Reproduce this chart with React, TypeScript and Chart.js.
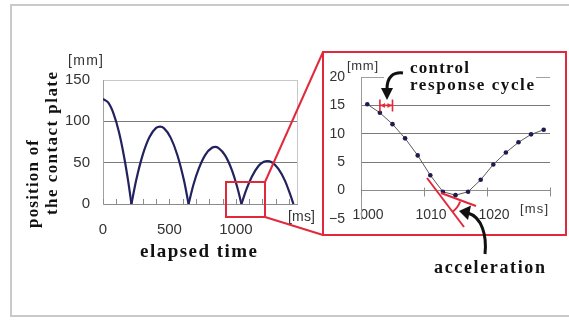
import React, { useEffect, useRef } from "react";
import { Chart, registerables } from "chart.js";

Chart.register(...registerables);

// Bounce trajectory of the contact plate, one array pair per flight arc [ms, mm]
const ARC1_MS = [0, 40, 80, 120, 160, 190, 214];
const ARC1_MM = [127, 122.5, 109, 87, 56, 27, 0];
const ARC2_MS = [214, 250, 300, 350, 400, 429, 460, 510, 560, 610, 644];
const ARC2_MM = [0, 29, 60, 81, 92, 93.5, 91.5, 80, 59, 28, 0];
const ARC3_MS = [644, 680, 720, 770, 820, 845, 870, 920, 970, 1010, 1042];
const ARC3_MM = [0, 23, 42.5, 59.5, 68, 69, 67.5, 58.5, 41, 20.5, 0];
const ARC4_MS = [1042, 1080, 1120, 1170, 1210, 1237, 1270, 1320, 1370, 1410, 1433];
const ARC4_MM = [0, 18, 33, 46, 51, 52, 50.5, 42.5, 28, 11, 0];

// Sampled positions around the third contact (one sample per 2 ms control cycle)
const DETAIL_MS = [1001, 1003, 1005, 1007, 1009, 1011, 1013, 1015, 1017, 1019, 1021, 1023, 1025, 1027, 1029];
const DETAIL_MM = [15.2, 13.7, 11.7, 9.2, 6.2, 2.7, -0.2, -0.8, -0.2, 1.9, 4.6, 6.7, 8.5, 9.9, 10.7];

// Control response cycle marker: from one sample to the next, drawn at 15 mm
const CYCLE_FROM_MS = 1003;
const CYCLE_TO_MS = 1005;
const CYCLE_LEVEL_MM = 15;

const MAIN_X_LABELS = [0, 500, 1000];

const NAVY = "#22225e";
const RED = "#e2293b";
const SANS = "'Liberation Sans', Arial, sans-serif";
const SERIF = "'Liberation Serif', 'DejaVu Serif', serif";

const ARCS: [number[], number[]][] = [
  [ARC1_MS, ARC1_MM],
  [ARC2_MS, ARC2_MM],
  [ARC3_MS, ARC3_MM],
  [ARC4_MS, ARC4_MM],
];

// Short inside tick marks every 100 ms plus the light right-hand frame line
const mainTickMarks = {
  id: "mainTickMarks",
  beforeDatasetsDraw(chart: any) {
    const { ctx, chartArea: a, scales } = chart;
    const x = scales.x;
    ctx.save();
    ctx.strokeStyle = "#8c8c8c";
    ctx.lineWidth = 1;
    x.ticks.forEach((t: any) => {
      const px = Math.round(x.getPixelForValue(t.value)) + 0.5;
      ctx.beginPath();
      ctx.moveTo(px, a.bottom);
      ctx.lineTo(px, a.bottom - 5);
      ctx.stroke();
    });
    ctx.strokeStyle = "#c8c8c8";
    ctx.beginPath();
    ctx.moveTo(Math.round(a.right) + 0.5, a.top);
    ctx.lineTo(Math.round(a.right) + 0.5, a.bottom);
    ctx.stroke();
    ctx.restore();
  },
};

// Crossing tick marks on the 0 mm axis and the red control-cycle bracket
const detailMarks = {
  id: "detailMarks",
  beforeDatasetsDraw(chart: any) {
    const { ctx, scales } = chart;
    const x = scales.x;
    const y = scales.y;
    const y0 = Math.round(y.getPixelForValue(0)) + 0.5;
    ctx.save();
    ctx.strokeStyle = "#8c8c8c";
    ctx.lineWidth = 1;
    x.ticks.forEach((t: any) => {
      const px = Math.round(x.getPixelForValue(t.value)) + 0.5;
      ctx.beginPath();
      ctx.moveTo(px, y0 - 4);
      ctx.lineTo(px, y0 + 5);
      ctx.stroke();
    });
    ctx.restore();
  },
  afterDatasetsDraw(chart: any) {
    const { ctx, scales } = chart;
    const x1 = scales.x.getPixelForValue(CYCLE_FROM_MS);
    const x2 = scales.x.getPixelForValue(CYCLE_TO_MS);
    const yc = scales.y.getPixelForValue(CYCLE_LEVEL_MM);
    ctx.save();
    ctx.strokeStyle = RED;
    ctx.fillStyle = RED;
    ctx.lineWidth = 1.6;
    ctx.beginPath();
    ctx.moveTo(x1, yc);
    ctx.lineTo(x2, yc);
    ctx.moveTo(x1, yc - 6);
    ctx.lineTo(x1, yc + 6);
    ctx.moveTo(x2, yc - 6);
    ctx.lineTo(x2, yc + 6);
    ctx.stroke();
    ctx.beginPath();
    ctx.moveTo(x1 + 1, yc);
    ctx.lineTo(x1 + 5, yc - 2.5);
    ctx.lineTo(x1 + 5, yc + 2.5);
    ctx.closePath();
    ctx.moveTo(x2 - 1, yc);
    ctx.lineTo(x2 - 5, yc - 2.5);
    ctx.lineTo(x2 - 5, yc + 2.5);
    ctx.closePath();
    ctx.fill();
    ctx.restore();
  },
};

function mainConfig(): any {
  return {
    type: "line",
    data: {
      datasets: ARCS.map(([ms, mm]) => ({
        data: ms.map((t, i) => ({ x: t, y: mm[i] })),
        borderColor: NAVY,
        borderWidth: 2.2,
        pointRadius: 0,
        cubicInterpolationMode: "monotone",
        fill: false,
      })),
    },
    options: {
      animation: false,
      responsive: false,
      events: [],
      plugins: { legend: { display: false }, tooltip: { enabled: false } },
      layout: { padding: { left: 43, top: 80, right: 272, bottom: 76 } },
      scales: {
        x: {
          type: "linear",
          min: 0,
          max: 1460,
          grid: { display: false },
          border: { color: "#8c8c8c" },
          ticks: {
            stepSize: 100,
            includeBounds: false,
            autoSkip: false,
            maxRotation: 0,
            padding: 9,
            color: "#333",
            font: { family: SANS, size: 15 },
            callback: (v: number) => {
              const r = Math.round(v);
              return MAIN_X_LABELS.includes(r) ? String(r) : "";
            },
          },
          afterFit: (s: any) => {
            s.height = 40;
          },
        },
        y: {
          min: 0,
          max: 150,
          grid: {
            drawTicks: false,
            color: (c: any) =>
              c.tick.value === 150 ? "#c8c8c8" : c.tick.value === 0 ? "rgba(0,0,0,0)" : "#7a7a7a",
          },
          border: { color: "#a0a0a0" },
          ticks: {
            stepSize: 50,
            padding: 13,
            color: "#333",
            font: { family: SANS, size: 15 },
          },
          afterFit: (s: any) => {
            s.width = 60;
          },
        },
      },
    },
    plugins: [mainTickMarks],
  };
}

function detailConfig(): any {
  return {
    type: "line",
    data: {
      datasets: [
        {
          data: DETAIL_MS.map((t, i) => ({ x: t, y: DETAIL_MM[i] })),
          borderColor: "#5a5a5a",
          borderWidth: 1,
          tension: 0,
          pointRadius: 2.3,
          pointBackgroundColor: "#1c1c50",
          pointBorderWidth: 0,
          fill: false,
        },
      ],
    },
    options: {
      animation: false,
      responsive: false,
      events: [],
      plugins: { legend: { display: false }, tooltip: { enabled: false } },
      layout: { padding: { left: 321, top: 77, right: 19, bottom: 101 } },
      scales: {
        x: {
          type: "linear",
          min: 1000,
          max: 1030,
          position: { y: 0 },
          grid: { display: false },
          border: { color: "#8c8c8c" },
          ticks: {
            stepSize: 10,
            autoSkip: false,
            maxRotation: 0,
            padding: 8,
            labelOffset: 7,
            color: "#333",
            font: { family: SANS, size: 14 },
            callback: (v: number) => (v < 1030 ? String(v) : ""),
          },
        },
        y: {
          min: -5,
          max: 20,
          grid: {
            drawTicks: false,
            color: (c: any) =>
              c.tick.value === 20
                ? "#a0a0a0"
                : c.tick.value <= 0
                ? "rgba(0,0,0,0)"
                : "#7a7a7a",
          },
          border: { color: "#9a9a9a" },
          ticks: {
            stepSize: 5,
            padding: 16,
            color: "#333",
            font: { family: SANS, size: 14 },
            callback: (v: number) => (v < 0 ? "\u2212" + Math.abs(v) : String(v)),
          },
          afterFit: (s: any) => {
            s.width = 40;
          },
        },
      },
    },
    plugins: [detailMarks],
  };
}

export default function App() {
  const mainRef = useRef<HTMLCanvasElement>(null);
  const detailRef = useRef<HTMLCanvasElement>(null);

  useEffect(() => {
    const main = new Chart(mainRef.current as HTMLCanvasElement, mainConfig());
    const detail = new Chart(detailRef.current as HTMLCanvasElement, detailConfig());
    return () => {
      main.destroy();
      detail.destroy();
    };
  }, []);

  const canvasStyle: React.CSSProperties = {
    position: "absolute",
    left: 0,
    top: 0,
    width: 569,
    height: 320,
  };

  return (
    <div
      style={{
        position: "absolute",
        left: 0,
        top: 0,
        width: 569,
        height: 320,
        background: "#fff",
        overflow: "hidden",
      }}
    >
      <canvas ref={mainRef} width={569} height={320} style={canvasStyle} />
      <canvas ref={detailRef} width={569} height={320} style={canvasStyle} />
      <svg
        width={569}
        height={320}
        style={{ position: "absolute", left: 0, top: 0, pointerEvents: "none" }}
      >
        {/* outer figure frame */}
        <rect x={11} y={5} width={600} height={311} fill="none" stroke="#c9c9c9" strokeWidth={2} />

        {/* main chart labels */}
        <text x={68} y={65} fontFamily={SANS} fontSize={14} fill="#333" textLength={35}>
          [mm]
        </text>
        <text x={288} y={221} fontFamily={SANS} fontSize={14} fill="#333" textLength={27}>
          [ms]
        </text>
        <text
          x={140}
          y={257}
          fontFamily={SERIF}
          fontWeight="bold"
          fontSize={19}
          fill="#111"
          textLength={117}
          lengthAdjust="spacing"
        >
          elapsed time
        </text>
        <text
          transform="translate(38,228) rotate(-90)"
          fontFamily={SERIF}
          fontWeight="bold"
          fontSize={17}
          fill="#111"
          textLength={88}
          lengthAdjust="spacing"
        >
          position of
        </text>
        <text
          transform="translate(57,215) rotate(-90)"
          fontFamily={SERIF}
          fontWeight="bold"
          fontSize={17}
          fill="#111"
          textLength={143}
          lengthAdjust="spacing"
        >
          the contact plate
        </text>

        {/* zoom box and connectors to the detail view */}
        <g stroke={RED} strokeWidth={2} fill="none">
          <rect x={226} y={182} width={39} height={35} />
          <line x1={265} y1={182} x2={323} y2={52} />
          <line x1={265} y1={217} x2={323} y2={235} />
          <rect x={323} y={52} width={243} height={183} />
        </g>

        {/* detail view labels */}
        <rect x={384} y={56} width={152} height={38} fill="#fff" />
        <text x={347} y={70} fontFamily={SANS} fontSize={13} fill="#333" textLength={31}>
          [mm]
        </text>
        <text x={520} y={213} fontFamily={SANS} fontSize={13} fill="#333" textLength={28}>
          [ms]
        </text>
        <text
          x={410}
          y={73}
          fontFamily={SERIF}
          fontWeight="bold"
          fontSize={17}
          fill="#111"
          textLength={59}
          lengthAdjust="spacing"
        >
          control
        </text>
        <text
          x={410}
          y={90}
          fontFamily={SERIF}
          fontWeight="bold"
          fontSize={17}
          fill="#111"
          textLength={124}
          lengthAdjust="spacing"
        >
          response cycle
        </text>

        {/* arrow to the control-cycle bracket */}
        <path d="M403,73 C393,72 387,77 387,89" stroke="#111" strokeWidth={3} fill="none" />
        <path d="M381,88 L393,88 L387,100 Z" fill="#111" />

        {/* tangents and angle showing the change of slope (acceleration) */}
        <g stroke={RED} strokeWidth={2} fill="none">
          <line x1={427} y1={178} x2={464} y2={227} />
          <line x1={441} y1={193} x2={476} y2={206} />
          <path d="M452.7,211.6 A22,22 0 0 0 460.2,201.5" />
        </g>

        {/* arrow to the acceleration angle */}
        <path d="M485,254 C487,236 482,217 468,213" stroke="#111" strokeWidth={3} fill="none" />
        <path d="M459,211 L471,205.5 L468,220 Z" fill="#111" />
        <text
          x={434}
          y={273}
          fontFamily={SERIF}
          fontWeight="bold"
          fontSize={18}
          fill="#111"
          textLength={111}
          lengthAdjust="spacing"
        >
          acceleration
        </text>
      </svg>
    </div>
  );
}
